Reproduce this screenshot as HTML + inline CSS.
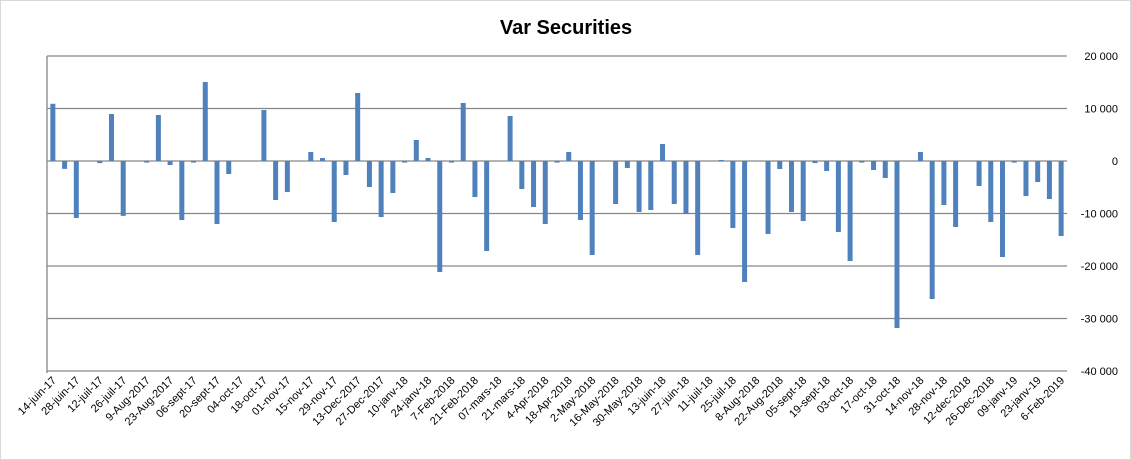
<!DOCTYPE html>
<html><head><meta charset="utf-8"><style>
html,body{margin:0;padding:0;background:#fff;}
svg{display:block;font-family:"Liberation Sans",sans-serif;}
</style></head><body>
<svg id="chart" width="1131" height="460" viewBox="0 0 1131 460" xmlns="http://www.w3.org/2000/svg">
<rect x="0.5" y="0.5" width="1130" height="459" fill="#fff" stroke="#d9d9d9"/>
<text x="566" y="34" text-anchor="middle" font-size="20" font-weight="bold" fill="#000">Var Securities</text>
<g id="grid"></g><g id="bars"></g><g id="ylabels"></g><g id="xlabels"></g>
</svg>
<script>
const categories = ["14-juin-17","28-juin-17","12-juil-17","26-juil-17","9-Aug-2017","23-Aug-2017","06-sept-17","20-sept-17","04-oct-17","18-oct-17","01-nov-17","15-nov-17","29-nov-17","13-Dec-2017","27-Dec-2017","10-janv-18","24-janv-18","7-Feb-2018","21-Feb-2018","07-mars-18","21-mars-18","4-Apr-2018","18-Apr-2018","2-May-2018","16-May-2018","30-May-2018","13-juin-18","27-juin-18","11-juil-18","25-juil-18","8-Aug-2018","22-Aug-2018","05-sept-18","19-sept-18","03-oct-18","17-oct-18","31-oct-18","14-nov-18","28-nov-18","12-dec-2018","26-Dec-2018","09-janv-19","23-janv-19","6-Feb-2019"];
const values = [10900,-1500,-10850,0,-400,8950,-10450,0,-300,8760,-760,-11240,-300,15050,-12000,-2480,0,0,9710,-7430,-5900,0,1710,570,-11620,-2670,12950,-4950,-10670,-6100,
-300,4000,570,-21140,-300,11050,-6860,-17140,0,8570,-5330,-8760,-12000,-300,1710,-11240,-17900,0,-8190,-1330,-9710,-9330,3240,-8190,-10100,-17900,0,190,-12760,
-23050,0,-13900,-1520,-9710,-11430,-400,-1900,-13520,-19050,-300,-1710,-3240,-31810,0,1710,-26290,-8380,-12570,0,-4760,-11620,-18290,-300,-6670,-4000,-7240,-14290];
const yTicks = [20000,10000,0,-10000,-20000,-30000,-40000];
const yTickLabels = ["20 000","10 000","0","-10 000","-20 000","-30 000","-40 000"];

const NS="http://www.w3.org/2000/svg";
const X0=47, X1=1067, Y0=56, Y1=371, VMAX=20000, VMIN=-40000;
const slot=(X1-X0)/values.length;
function xScale(i){return X0+slot*(i+0.5);}
function yScale(v){return Y0+(VMAX-v)/(VMAX-VMIN)*(Y1-Y0);}
function mk(tag,attrs){const e=document.createElementNS(NS,tag);for(const k in attrs)e.setAttribute(k,attrs[k]);return e;}
const grid=document.getElementById('grid');
yTicks.forEach((t,i)=>{
  const l=mk('line',{x1:X0,x2:X1,y1:yScale(t),y2:yScale(t),stroke:'#868686','stroke-width':1.3});
  
  
  grid.appendChild(l);
  const tx=mk('text',{x:1118,y:yScale(t)+4,'text-anchor':'end','font-size':11,fill:'#000'});
  tx.textContent=yTickLabels[i];
  
  
  document.getElementById('ylabels').appendChild(tx);
});
const ax=mk('line',{x1:X0,x2:X0,y1:Y0,y2:Y1+2,stroke:'#868686','stroke-width':1.3});


grid.appendChild(ax);
const bars=document.getElementById('bars');
values.forEach((v,i)=>{
  const y0=yScale(0), y=yScale(v);
  const r=mk('rect',{x:xScale(i)-2.5,y:Math.min(y,y0),width:5,height:Math.abs(y-y0),fill:'#4f81bd'});
  
  
  bars.appendChild(r);
});
const xl=document.getElementById('xlabels');
categories.forEach((c,k)=>{
  const cx=xScale(k*2);
  const t=mk('text',{transform:`translate(${cx+4},${381}) rotate(-45)`,'text-anchor':'end','font-size':11,fill:'#000'});
  t.textContent=c;
  
  
  xl.appendChild(t);
});
</script>
</body></html>
